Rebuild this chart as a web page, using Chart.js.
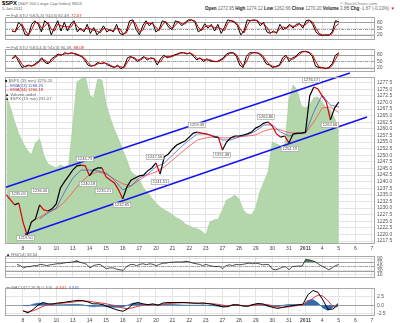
<!DOCTYPE html>
<html>
<head>
<meta charset="utf-8">
<script src="https://cdn.jsdelivr.net/npm/chart.js@4.4.1/dist/chart.umd.min.js"></script>
<style>
  body { margin: 0; background: #fff; width: 400px; height: 323px; overflow: hidden; position: relative;
         font-family: "Liberation Sans", Arial, sans-serif; }
  .pane { position: absolute; left: 0; width: 400px; }
  .t { position: absolute; white-space: nowrap; line-height: 1; color: #666; font-size: 4.2px; }
  .t b { color: #222; }
  .red { color: #d42020; }
  .blue { color: #3a52b8; }
</style>
</head>
<body>

<!-- header -->
<div class="t" style="left:2px;top:0.5px;font-size:4.3px"><b style="font-size:5.8px;color:#000">$SPX</b> (S&amp;P 500 Large Cap Index) INDX</div>
<div class="t" style="right:23px;top:1.5px;font-size:4.3px;color:#777">© StockCharts.com</div>
<div class="t" style="left:2px;top:7px;font-size:4.1px">5-Jan-2011</div>
<div class="t" style="right:5px;top:7px;font-size:4.5px"><b>Open</b> 1272.95 <b>High</b> 1274.12 <b>Low</b> 1262.66 <b>Close</b> 1270.20 <b>Volume</b> 3.8B <b>Chg</b> -1.67 (-0.13%) <span class="red">▼</span></div>

<div class="pane" style="top:12px;height:33px"><canvas id="sto1" width="400" height="33"></canvas></div>
<div class="pane" style="top:44px;height:33px"><canvas id="sto2" width="400" height="33"></canvas></div>
<div class="pane" style="top:60px;height:192px"><canvas id="main" width="400" height="192"></canvas></div>
<div class="pane" style="top:251px;height:32px"><canvas id="rsi" width="400" height="32"></canvas></div>
<div class="pane" style="top:283px;height:40px"><canvas id="macd" width="400" height="40"></canvas></div>

<!-- panel legends -->
<div class="t" style="left:6px;top:14px"><b>—</b> Full STO %K(5,3) %D(3) 82.48, <span class="red">72.67</span></div>
<div class="t" style="left:6px;top:46px"><b>—</b> Full STO %K(14,3) %D(3) 90.49, <span class="red">88.08</span></div>
<div class="t" style="left:5px;top:78.8px"><b>■</b> $SPX (15 min) 1270.20</div>
<div class="t blue" style="left:5px;top:83.6px">— EMA(13) 1268.25</div>
<div class="t red" style="left:5px;top:88.4px">— EMA(34) 1266.18</div>
<div class="t" style="left:5px;top:93px"><b>▲</b> Volume undef</div>
<div class="t" style="left:5px;top:97.2px"><b>▲</b> $SPX (15 min) 231.07</div>
<div class="t" style="left:6px;top:252.8px"><b>▲</b> RSI(14) 59.54</div>
<div class="t" style="left:6px;top:286px"><b>—</b> MACD(12,26,9) 0.100, <span class="red">-0.441</span>, <span class="blue">0.541</span></div>

<script>
// ---- x axis: trading days, Dec 7 = 0 ... Jan 7 = 22 ----
const tickDays = [1, 2, 3, 4, 5, 6, 7, 8, 9, 10, 11, 12, 13, 14, 15, 16, 17, 18, 19, 20, 21, 22];
const tickLabels = ['8', '9', '10', '13', '14', '15', '16', '17', '20', '21', '22', '23',
                    '27', '28', '29', '30', '31', '2011', '4', '5', '6', '7'];
const X_MIN = -0.083, X_MAX = 22.181;

// ---- price panel (15 min, sampled every quarter day) ----
const PRICE_STEP = 0.25;
const priceValues = [
  1235.0, 1233.1, 1231.2, 1231.9, 1224.7, 1219.8, 1224.7, 1225.9, 1231.2, 1229.3,
  1228.9, 1229.7, 1231.6, 1237.6, 1240.0, 1242.2, 1244.5, 1246.0, 1246.3, 1246.0,
  1242.2, 1244.5, 1245.2, 1245.2, 1241.8, 1240.6, 1239.5, 1236.9, 1233.5, 1238.0,
  1240.6, 1241.4, 1242.2, 1242.5, 1244.1, 1245.2, 1247.1, 1242.9, 1249.4, 1250.5,
  1252.4, 1253.9, 1254.7, 1255.4, 1256.9, 1258.4, 1258.8, 1258.4, 1258.1, 1257.7,
  1256.9, 1256.9, 1252.0, 1255.0, 1256.6, 1257.3, 1257.3, 1257.7, 1258.1, 1258.8,
  1260.3, 1261.1, 1262.2, 1262.6, 1261.1, 1258.1, 1256.9, 1257.3, 1254.7, 1258.1,
  1258.4, 1258.4, 1258.8, 1272.5, 1275.9, 1275.1, 1272.5, 1270.2, 1263.4, 1267.9,
  1270.2
];
// green area behind the price (own hidden scale 0-100)
const overlayArea = [
  88.6, 81.4, 73, 65.9, 60.5, 56.3, 53.3, 60.5, 62.9, 53.3,
  47.9, 46.7, 45.5, 47.3, 46.1, 47.3, 71.3, 97, 98.8, 100,
  89.2, 87.4, 98.8, 98.2, 83.8, 75.4, 68.3, 62.9, 56.3, 50.3,
  43.1, 41.3, 38.3, 33.5, 30.5, 27.5, 24.6, 22.2, 20.4, 19.2,
  17.4, 15.6, 14.4, 12, 10.8, 9.6, 9, 7.8, 5.4, 13.2,
  14.4, 15, 20.4, 26.3, 27.5, 29.3, 26.9, 20.4, 18, 17.4,
  21.6, 31.1, 37.1, 43.1, 61.1, 59.9, 58.7, 57.5, 86.2, 95.2,
  92.2, 82.6, 81.4, 83.2, 87.4, 88, 85, 81.4, 80.2, 75.4,
  67
];
const EMA_STEP = 0.5;
const ema13Values = [
  null, null, null, null, 1225.9, 1228.1, 1230.0, 1236.1, 1241.4, 1244.4,
  1244.4, 1244.1, 1243.3, 1240.6, 1236.9, 1238.4, 1241.4, 1242.9, 1245.6, 1247.1,
  1250.1, 1253.1, 1255.8, 1258.1, 1258.1, 1257.3, 1255.8, 1255.8, 1257.0, 1257.7,
  1259.2, 1261.5, 1261.5, 1258.8, 1257.3, 1258.1, 1258.4, 1266.4, 1272.8, 1269.0,
  1268.3
];
const ema34Values = [
  null, null, null, 1224.7, 1226.6, 1228.5, 1229.7, 1232.3, 1236.1, 1239.9,
  1242.6, 1243.7, 1242.9, 1241.0, 1239.2, 1238.4, 1240.6, 1242.6, 1243.7, 1245.6,
  1248.2, 1250.9, 1253.5, 1255.8, 1256.6, 1257.0, 1256.6, 1256.6, 1257.0, 1257.3,
  1257.7, 1259.2, 1260.0, 1259.6, 1258.6, 1258.4, 1258.4, 1262.6, 1267.9, 1268.3,
  1266.2
];
// trend channel drawn on the chart: [day, price]
const upperChannel = [[-0.083, 1237.8], [20.67, 1281.2]];
const lowerChannel = [[1.12, 1220.1], [21.70, 1264.5]];
// price annotations
const tagDays = [0.73, 1.15, 2.02, 4.73, 4.91, 5.87, 6.96, 8.94, 9.24, 11.47, 12.97, 15.62, 17.06, 18.33, 19.47];
const tagPrices = [1235.3, 1218.7, 1236.5, 1248.6, 1239.1, 1236.5, 1231.2, 1249.4, 1239.9, 1261.5, 1250.1, 1264.5, 1252.4, 1278.5, 1261.5];
const tagTexts = ['1235.05', '1219.50', '1236.06', '1246.73', '1240.18', '1235.21', '1232.85', '1247.56',
                  '1241.51', '1259.39', '1251.48', '1262.86', '1254.19', '1276.17', '1262.66'];
const priceTicks = [1217.5, 1220, 1222.5, 1225, 1227.5, 1230, 1232.5, 1235, 1237.5, 1240, 1242.5, 1245, 1247.5,
                    1250, 1252.5, 1255, 1257.5, 1260, 1262.5, 1265, 1267.5, 1270, 1272.5, 1275, 1277.5];

// ---- stochastics ----
const STO_START = 0.34, STO_END = 20.0;
const sto1K = [
  38, 34, 80, 63, 20, 17, 70, 87, 70, 34, 87, 73, 20, 55, 87, 38, 80, 38, 73, 87,
  34, 52, 34, 70, 27, 55, 20, 38, 63, 34, 45, 34, 70, 27, 20, 38, 87, 91, 45, 20,
  63, 87, 63, 80, 34, 45, 87, 80, 55, 45, 87, 80, 63, 80, 91, 91, 80, 34, 45, 73,
  52, 70, 38, 70, 27, 55, 91, 87, 80, 63, 20, 38, 91, 87, 91, 87, 63, 80, 34, 27,
  38, 27, 70, 45, 55, 70, 52, 70, 73, 52, 87, 91, 70, 34, 20, 17, 20, 17, 34, 87,
  82
];
const sto1D = [
  38, 36, 57, 72, 42, 19, 44, 79, 79, 52, 61, 80, 47, 38, 71, 63, 59, 59, 56, 80,
  61, 43, 43, 52, 49, 41, 38, 29, 51, 49, 40, 40, 52, 49, 24, 29, 63, 89, 68, 33,
  42, 75, 75, 72, 57, 40, 66, 84, 68, 50, 66, 84, 72, 72, 86, 91, 86, 57, 40, 59,
  63, 61, 54, 54, 49, 41, 73, 89, 84, 72, 42, 29, 65, 89, 89, 89, 75, 72, 57, 31,
  33, 33, 49, 58, 50, 63, 61, 61, 72, 63, 70, 89, 81, 52, 27, 19, 19, 19, 26, 61,
  73
];
const sto2K = [
  62, 79, 49, 20, 26, 32, 26, 38, 49, 67, 44, 38, 62, 73, 85, 79, 91, 85, 91, 85,
  79, 73, 56, 32, 26, 32, 44, 38, 44, 32, 26, 20, 32, 14, 26, 67, 73, 62, 49, 62,
  73, 56, 67, 62, 32, 62, 79, 67, 73, 79, 85, 91, 91, 85, 91, 73, 56, 67, 49, 62,
  52, 49, 48, 56, 66, 85, 91, 91, 73, 32, 20, 73, 91, 91, 91, 85, 67, 38, 32, 20,
  26, 32, 67, 79, 49, 67, 73, 91, 97, 97, 91, 73, 26, 20, 20, 14, 20, 38, 79, 90
];
const sto2D = [
  62, 71, 64, 35, 23, 29, 29, 32, 44, 58, 56, 41, 50, 68, 79, 82, 85, 88, 88, 88,
  82, 76, 65, 44, 29, 29, 38, 41, 41, 38, 29, 23, 26, 23, 20, 47, 70, 68, 56, 56,
  68, 65, 62, 65, 47, 47, 71, 73, 70, 76, 82, 88, 91, 88, 88, 82, 65, 62, 58, 56,
  57, 51, 49, 52, 61, 76, 88, 91, 82, 53, 26, 47, 82, 91, 91, 88, 76, 53, 35, 26,
  23, 29, 50, 73, 64, 58, 70, 82, 94, 97, 94, 82, 50, 23, 20, 17, 17, 29, 59, 88
];

// ---- RSI(14) ----
const RSI_START = 0.64, RSI_END = 20.0;
const rsiValues = [
  60, 54, 43, 49, 49, 54, 54, 60, 58, 54, 58, 60, 63, 63, 66, 69, 70, 72, 78, 70,
  66, 60, 43, 54, 58, 60, 49, 39, 43, 43, 37, 34, 31, 49, 58, 60, 54, 60, 63, 58,
  63, 60, 54, 60, 66, 66, 70, 70, 72, 72, 72, 75, 72, 66, 63, 60, 54, 60, 54, 51,
  49, 51, 39, 54, 58, 54, 60, 58, 60, 63, 66, 63, 66, 63, 58, 60, 58, 37, 34, 39,
  46, 49, 34, 49, 51, 52, 52, 84, 82, 78, 72, 60, 51, 43, 34, 43, 54, 59.5
];

// ---- MACD(12,26,9) ----
const MACD_START = 1.0, MACD_STEP = 0.3008;
const macdValues = [
  -1.6, -2.2, -1.2, 0, 0.78, 0.39, 0.39, 0.63, 0.78, 1.0,
  1.2, 1.4, 1.3, 0.94, 0.39, 0.39, 0.16, -0.4, -0.94, -1.42,
  -1.73, -0.94, 0.39, 0.78, 0.39, 0.16, 0.39, 0, 0.63, 0.78,
  0.78, 0.78, 0.78, 0.7, 0.6, 0.55, 0.65, 0.45, 0.25, -0.1,
  -0.5, -0.4, 0.1, 0.1, -0.25, -0.3, 0.2, 0.5, 0.35, -0.2,
  -0.65, -0.9, -0.6, -0.3, -0.1, 0.1, 0.3, 3.0, 4.2, 3.7,
  1.5, -1.2, -1.1, 0.1
];
const signalValues = [
  -1.6, -1.9, -1.6, -1.0, -0.3, 0.1, 0.3, 0.45, 0.6, 0.75,
  0.9, 1.1, 1.2, 1.15, 0.95, 0.75, 0.55, 0.3, 0.0, -0.4,
  -0.8, -1.0, -0.7, -0.3, 0.0, 0.1, 0.2, 0.15, 0.3, 0.45,
  0.55, 0.65, 0.7, 0.7, 0.6, 0.55, 0.55, 0.5, 0.4, 0.25,
  0.0, -0.15, -0.1, 0.0, -0.1, -0.2, -0.05, 0.2, 0.3, 0.15,
  -0.2, -0.5, -0.6, -0.5, -0.3, -0.1, 0.1, 0.9, 2.0, 2.9,
  2.6, 1.3, -0.4, -0.44
];
const histValues = [
  0, -0.2, 0.3, 0.6, 0.6, 0.25, 0.1, 0.15, 0.15, 0.2,
  0.25, 0.25, 0.1, -0.2, -0.45, -0.3, -0.3, -0.5, -0.6, -0.6,
  -0.5, 0.05, 0.6, 0.55, 0.3, 0.05, 0.15, -0.1, 0.3, 0.3,
  0.2, 0.1, 0.05, 0, 0, 0, 0.1, -0.05, -0.15, -0.3,
  -0.4, -0.2, 0.2, 0.1, -0.15, -0.1, 0.2, 0.3, 0.05, -0.3,
  -0.4, -0.35, 0, 0.2, 0.2, 0.2, 0.2, 1.4, 1.6, 0.7,
  -0.8, -1.5, -0.6, 0.54
];

// ---------------------------------------------------------------
Chart.defaults.font.family = '"Liberation Sans", Arial, sans-serif';
Chart.defaults.animation = false;

const stepPts = (vals, start, step) => vals.map((v, i) => ({ x: start + i * step, y: v }));
const spanPts = (vals, start, end) => stepPts(vals, start, (end - start) / (vals.length - 1));
const pairPts = pairs => pairs.map(p => ({ x: p[0], y: p[1] }));

// grey box round each panel plus its reference lines
const frame = {
  id: 'frame',
  beforeDatasetsDraw(chart, args, opts) {
    const { ctx, chartArea: a, scales: { y } } = chart;
    (opts.lines || []).forEach(l => {
      const py = Math.round(y.getPixelForValue(l.v)) + 0.5;
      ctx.save();
      ctx.strokeStyle = '#a0a0a0';
      ctx.lineWidth = 1;
      ctx.setLineDash(l.dash || []);
      ctx.beginPath(); ctx.moveTo(a.left, py); ctx.lineTo(a.right, py); ctx.stroke();
      ctx.restore();
    });
  },
  afterDraw(chart) {
    const { ctx, chartArea: a } = chart;
    ctx.save();
    ctx.strokeStyle = '#a8a8a8';
    ctx.lineWidth = 1;
    ctx.strokeRect(Math.round(a.left) + 0.5, Math.round(a.top) + 0.5, Math.round(a.width) - 1, Math.round(a.height) - 1);
    ctx.restore();
  }
};

// boxed price annotations on the main panel
const priceTags = {
  id: 'priceTags',
  afterDatasetsDraw(chart) {
    const { ctx, scales: { x, y } } = chart;
    ctx.save();
    ctx.font = '4px "Liberation Sans", Arial';
    ctx.textAlign = 'center';
    ctx.textBaseline = 'middle';
    tagDays.forEach((d, i) => {
      const px = x.getPixelForValue(d), py = y.getPixelForValue(tagPrices[i]);
      const w = ctx.measureText(tagTexts[i]).width + 3;
      ctx.fillStyle = '#fff';
      ctx.fillRect(px - w / 2, py - 2.5, w, 5);
      ctx.strokeStyle = '#999';
      ctx.lineWidth = 0.6;
      ctx.strokeRect(px - w / 2, py - 2.5, w, 5);
      ctx.fillStyle = '#444';
      ctx.fillText(tagTexts[i], px, py + 0.3);
    });
    ctx.restore();
  }
};

function xAxis(showLabels, h) {
  return {
    type: 'linear', min: X_MIN, max: X_MAX,
    afterBuildTicks: s => { s.ticks = tickDays.map(v => ({ value: v })); },
    afterFit: s => { s.height = h; },
    grid: { color: '#e4e4e4', drawTicks: false },
    border: { display: false },
    ticks: {
      display: showLabels, autoSkip: false, maxRotation: 0, padding: 1.5, color: '#444',
      font: c => ({ size: 5, weight: c.tick && c.tick.value === 18 ? 'bold' : 'normal' }),
      callback: v => tickLabels[tickDays.indexOf(v)]
    }
  };
}

function yAxis(min, max, ticks, fmt) {
  return {
    position: 'right', min: min, max: max,
    afterBuildTicks: s => { s.ticks = ticks.map(v => ({ value: v })); },
    afterFit: s => { s.width = 25; },
    grid: { color: '#e4e4e4', drawTicks: false },
    border: { display: false },
    ticks: { autoSkip: false, padding: 2, color: '#555', font: { size: 5 }, callback: fmt }
  };
}

function baseOptions(pad, scales, lines) {
  return {
    responsive: false,
    devicePixelRatio: 1,
    layout: { padding: { left: 5, right: 0, top: pad[0], bottom: pad[1] } },
    plugins: { legend: { display: false }, tooltip: { enabled: false }, frame: { lines: lines } },
    elements: { point: { radius: 0 }, line: { tension: 0 } },
    scales: scales
  };
}

const stoLines = [{ v: 80 }, { v: 20 }, { v: 50, dash: [3, 1, 1, 1] }];

function stoChart(id, kVals, dVals, yMin, yMax) {
  new Chart(document.getElementById(id), {
    type: 'line',
    data: {
      datasets: [
        { data: spanPts(dVals, STO_START, STO_END), borderColor: '#d00000', borderWidth: 1 },
        { data: spanPts(kVals, STO_START, STO_END), borderColor: '#000', borderWidth: 1 }
      ]
    },
    options: baseOptions([1, 1], { x: xAxis(false, 0), y: yAxis(yMin, yMax, [20, 50, 80], v => String(v)) }, stoLines),
    plugins: [frame]
  });
}

stoChart('sto1', sto1K, sto1D, -4.6, 104.9);
stoChart('sto2', sto2K, sto2D, -1.4, 108.9);

// main price panel
new Chart(document.getElementById('main'), {
  type: 'line',
  data: {
    datasets: [
      {
        data: stepPts(priceValues, 0, PRICE_STEP), borderWidth: 1.2, borderColor: '#000',
        segment: { borderColor: c => c.p1.parsed.y < c.p0.parsed.y ? '#d40000' : '#000' }
      },
      { data: stepPts(ema13Values, 0, EMA_STEP), borderColor: '#4a5fc8', borderWidth: 0.8 },
      { data: stepPts(ema34Values, 0, EMA_STEP), borderColor: '#ff4a4a', borderWidth: 0.8 },
      { data: pairPts(upperChannel), borderColor: '#1414f0', borderWidth: 1.6, clip: false },
      { data: pairPts(lowerChannel), borderColor: '#1414f0', borderWidth: 1.6, clip: false },
      {
        data: stepPts(overlayArea, 0, PRICE_STEP), yAxisID: 'v', fill: 'origin',
        backgroundColor: '#b4d6ab', borderColor: '#9fc795', borderWidth: 0.6
      }
    ]
  },
  options: baseOptions([17, 0], {
    x: xAxis(true, 8),
    y: yAxis(1216.39, 1279.66, priceTicks, v => v.toFixed(1)),
    v: { display: false, min: 0, max: 100 }
  }, []),
  plugins: [frame, priceTags]
});

// RSI panel
new Chart(document.getElementById('rsi'), {
  type: 'line',
  data: {
    datasets: [{
      data: spanPts(rsiValues, RSI_START, RSI_END), borderColor: '#222', borderWidth: 0.8,
      fill: { target: { value: 70 }, above: '#4d7d5c', below: 'rgba(0,0,0,0)' }
    }]
  },
  options: baseOptions([1, 1], {
    x: xAxis(false, 0),
    y: yAxis(-5.65, 100.4, [10, 30, 50, 70, 90], v => String(v))
  }, [{ v: 70 }, { v: 30 }, { v: 50, dash: [3, 1, 1, 1] }]),
  plugins: [frame]
});

// MACD panel
new Chart(document.getElementById('macd'), {
  type: 'line',
  data: {
    datasets: [
      { data: stepPts(macdValues, MACD_START, MACD_STEP), borderColor: '#000', borderWidth: 1 },
      { data: stepPts(signalValues, MACD_START, MACD_STEP), borderColor: '#e03a3a', borderWidth: 1 },
      {
        data: stepPts(histValues, MACD_START, MACD_STEP), fill: 'origin',
        backgroundColor: '#2c6cb0', borderColor: '#2c6cb0', borderWidth: 0.6
      }
    ]
  },
  options: baseOptions([0, 0], {
    x: xAxis(true, 7),
    y: yAxis(-3.08, 4.92, [-2.5, 0, 2.5], v => v.toFixed(1))
  }, [{ v: 0 }]),
  plugins: [frame]
});
</script>
</body>
</html>
